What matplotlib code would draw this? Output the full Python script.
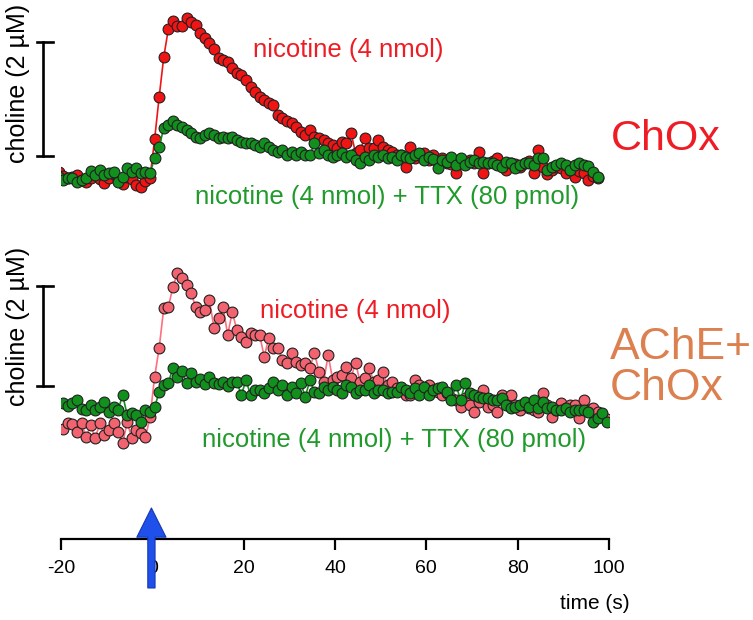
"""
Choline traces evoked by nicotine, with and without TTX, recorded with
ChOx-only and AChE+ChOx coated sensors.
"""

import numpy as np
import matplotlib
matplotlib.use('Agg')
import matplotlib.pyplot as plt

W, H = 753, 620  # figure size in pixels
DPI = 100

# time base (s): first sample time of each panel, 1 s sampling
T0_TOP = -20.5
T0_BOTTOM = -19.5
TIME_TICKS = [-20, 0, 20, 40, 60, 80, 100]
STIM_TIME = 0
SCALE_UM = 2

# ChOx sensor, nicotine (4 nmol), choline in uM relative to scale bar bottom
chox_nic = [
    -0.29, -0.36, -0.40, -0.38, -0.34, -0.43, -0.46, -0.39, -0.34, -0.41,
    -0.48, -0.39, -0.33, -0.43, -0.50, -0.37, -0.41, -0.52, -0.55, -0.45,
    -0.39,
    0.29, 1.04, 1.74, 2.23, 2.38, 2.29, 2.29, 2.43, 2.36, 2.31,
    2.16, 2.08, 1.99, 1.88, 1.72, 1.69, 1.65, 1.55, 1.46, 1.42,
    1.34, 1.21, 1.12, 1.04, 0.98, 0.93, 0.89, 0.72, 0.66, 0.61,
    0.58, 0.51, 0.42, 0.37, 0.45, 0.33, 0.31, 0.28, 0.22, 0.19,
    0.14, 0.24, 0.22, 0.40, 0.05, 0.10, 0.31, 0.14, 0.14, 0.28,
    0.15, 0.10, 0.07, 0.01, 0.01, -0.20, 0.15, -0.04, 0.01, 0.05,
    -0.08, 0.01, -0.11, -0.04, -0.13, -0.15, -0.31, -0.10, -0.15, -0.08,
    -0.13, 0.07, -0.30, -0.13, -0.10, -0.04, -0.16, -0.25, -0.13, -0.15,
    -0.20, -0.13, -0.10, -0.30, 0.10, -0.20, -0.33, -0.25, -0.20, -0.22,
    -0.30, -0.25, -0.38, -0.27, -0.30, -0.43, -0.36, -0.40,
]
# ChOx sensor, nicotine (4 nmol) + TTX (80 pmol)
chox_ttx = [
    -0.38, -0.43, -0.40, -0.39, -0.46, -0.43, -0.39, -0.27, -0.34, -0.25,
    -0.34, -0.31, -0.29, -0.46, -0.38, -0.22, -0.29, -0.22, -0.31, -0.29,
    -0.31,
    -0.04, 0.15, 0.49, 0.54, 0.62, 0.54, 0.51, 0.45, 0.40, 0.33,
    0.31, 0.37, 0.40, 0.37, 0.31, 0.33, 0.31, 0.33, 0.28, 0.24,
    0.22, 0.22, 0.19, 0.15, 0.22, 0.15, 0.10, 0.07, 0.10, 0.01,
    0.07, 0.01, 0.07, 0.01, 0.01, 0.22, 0.05, 0.10, 0.01, -0.02,
    0.01, 0.05, -0.02, 0.01, -0.08, -0.13, -0.02, -0.08, 0.01, -0.02,
    0.01, -0.04, -0.02, -0.08, 0.01, -0.02, -0.04, 0.01, 0.05, -0.08,
    -0.02, -0.06, -0.22, -0.08, -0.11, -0.02, -0.16, -0.04, -0.16, -0.11,
    -0.08, -0.13, -0.11, -0.13, -0.13, -0.16, -0.20, -0.11, -0.13, -0.22,
    -0.16, -0.13, -0.13, -0.16, -0.04, -0.04, -0.25, -0.20, -0.16, -0.13,
    -0.16, -0.25, -0.16, -0.13, -0.16, -0.18, -0.29, -0.38,
]
# AChE+ChOx sensor, nicotine (4 nmol)
ache_nic = [
    -0.86, -0.74, -0.76, -0.92, -0.74, -1.02, -0.78, -1.04, -0.74, -0.98,
    -0.88, -0.74, -0.92, -1.14, -0.72, -1.04, -0.88, -0.94, -1.02, -0.62,
    0.18, 0.76, 1.55, 1.57, 1.97, 2.25, 2.15, 2.01, 1.85, 1.57,
    1.47, 1.51, 1.71, 1.16, 1.35, 1.57, 1.02, 1.47, 1.12, 0.98,
    0.88, 1.06, 1.02, 1.02, 0.58, 0.96, 0.76, 0.76, 0.52, 0.46,
    0.66, 0.48, 0.42, 0.46, 0.36, 0.66, 0.28, 0.08, 0.62, 0.12,
    0.18, 0.22, 0.38, 0.16, 0.46, 0.08, 0.16, 0.36, 0.08, 0.12,
    0.28, 0.02, 0.08, -0.04, -0.08, -0.18, -0.18, 0.12, 0.02, -0.04,
    0.02, -0.08, -0.12, -0.18, -0.14, -0.24, -0.28, -0.42, -0.24, -0.38,
    -0.52, -0.32, -0.08, -0.42, -0.38, -0.52, -0.18, -0.32, -0.18, -0.38,
    -0.48, -0.38, -0.44, -0.48, -0.52, -0.14, -0.38, -0.62, -0.48, -0.34,
    -0.44, -0.38, -0.38, -0.64, -0.28, -0.48, -0.44, -0.52, -0.58, -0.66,
]
# AChE+ChOx sensor, nicotine (4 nmol) + TTX (80 pmol)
ache_ttx = [
    -0.34, -0.40, -0.34, -0.28, -0.46, -0.48, -0.38, -0.48, -0.42, -0.32,
    -0.52, -0.42, -0.48, -0.18, -0.58, -0.54, -0.58, -0.72, -0.48, -0.52,
    -0.42, -0.12, 0.02, 0.06, 0.36, 0.18, 0.30, 0.06, 0.26, 0.08,
    0.14, 0.04, 0.18, 0.06, 0.04, 0.08, 0.00, 0.08, 0.08, -0.18,
    0.12, -0.18, -0.08, -0.08, -0.14, -0.04, 0.08, -0.08, 0.02, -0.18,
    -0.02, -0.14, 0.06, -0.22, 0.12, -0.12, -0.14, -0.02, -0.08, -0.02,
    -0.08, -0.14, 0.02, -0.02, -0.14, -0.08, -0.08, 0.02, -0.14, -0.08,
    -0.08, -0.14, -0.12, -0.12, -0.02, -0.08, -0.14, -0.04, -0.18, -0.02,
    -0.18, -0.08, -0.04, -0.02, -0.12, -0.28, 0.02, -0.28, 0.06, -0.14,
    -0.18, -0.22, -0.24, -0.24, -0.28, -0.28, -0.24, -0.38, -0.44, -0.42,
    -0.38, -0.32, -0.42, -0.28, -0.44, -0.32, -0.44, -0.42, -0.48, -0.48,
    -0.44, -0.52, -0.48, -0.48, -0.48, -0.52, -0.72, -0.64, -0.54, -0.72,
]

RED = '#f01414'
PINK = '#f2636f'
GREEN = '#12901e'
TEXT_RED = '#ee1c24'
TEXT_GREEN = '#1f9a2b'
ORANGE = '#dc8050'
BLUE = '#1f50ea'

# x mapping shared by all axes: t=-20 at 61 px, t=100 at 609 px
X_LEFT, X_RIGHT = 61, 609


def px_axes(fig, top, bottom):
    """Axes spanning the time range horizontally, pixel rows top..bottom."""
    return fig.add_axes([
        X_LEFT / W, 1 - bottom / H,
        (X_RIGHT - X_LEFT) / W, (bottom - top) / H
    ])


def draw_panel(ax, t, nic, ttx, nic_color, line_color):
    ax.plot(t, nic, '-', color=line_color, lw=1.2, zorder=2)
    ax.plot(t, nic, 'o', ms=7.8, mfc=nic_color, mec='#202020', mew=0.8,
            zorder=3)
    ax.plot(t, ttx, '-', color=GREEN, lw=1.2, zorder=4)
    ax.plot(t, ttx, 'o', ms=7.8, mfc=GREEN, mec='#202020', mew=0.8,
            zorder=5)
    # 2 uM scale bar
    ax.plot([-23.85, -23.85], [0, SCALE_UM], color='k', lw=1.9,
            clip_on=False)
    for yb in (0, SCALE_UM):
        ax.plot([-25.2, -21.7], [yb, yb], color='k', lw=1.9, clip_on=False)
    ax.set_xlim(-20, 100)
    ax.axis('off')


def main():
    plt.rcParams['font.family'] = ['Liberation Sans', 'DejaVu Sans']
    fig = plt.figure(figsize=(W / DPI, H / DPI), dpi=DPI)

    t_top = T0_TOP + np.arange(len(chox_nic))
    t_bot = T0_BOTTOM + np.arange(len(ache_nic))

    # top panel: ChOx
    ax1 = px_axes(fig, 0, 210)
    draw_panel(ax1, t_top, chox_nic, chox_ttx, RED, RED)
    ax1.set_ylim(-0.958, 2.746)
    ax1.text(-29.5, 1.28, 'choline (2 µM)', rotation=90, fontsize=18,
             ha='center', va='center')
    ax1.text(42.9, 1.86, 'nicotine (4 nmol)', color=TEXT_RED, fontsize=18.5,
             ha='center', va='center')
    ax1.text(51.4, -0.73, 'nicotine (4 nmol) + TTX (80 pmol)',
             color=TEXT_GREEN, fontsize=18.5, ha='center', va='center')
    ax1.text(100.4, 0.30, 'ChOx', color=TEXT_RED, fontsize=31,
             ha='left', va='center')

    # bottom panel: AChE + ChOx
    ax2 = px_axes(fig, 240, 460)
    draw_panel(ax2, t_bot, ache_nic, ache_ttx, PINK, '#ff6f7d')
    ax2.set_ylim(-1.474, 2.908)
    ax2.text(-29.5, 1.18, 'choline (2 µM)', rotation=90, fontsize=18,
             ha='center', va='center')
    ax2.text(44.4, 1.49, 'nicotine (4 nmol)', color=TEXT_RED, fontsize=18.5,
             ha='center', va='center')
    ax2.text(53.0, -1.08, 'nicotine (4 nmol) + TTX (80 pmol)',
             color=TEXT_GREEN, fontsize=18.5, ha='center', va='center')
    ax2.text(100.2, 0.36, 'AChE+\nChOx', color=ORANGE, fontsize=32,
             ha='left', va='center', linespacing=1.02)

    # time axis with stimulus arrow
    ax3 = px_axes(fig, 480, 539)
    ax3.set_xlim(-20, 100)
    ax3.set_ylim(0, 1)
    for side in ('left', 'right', 'top'):
        ax3.spines[side].set_visible(False)
    ax3.spines['bottom'].set_linewidth(1.6)
    ax3.set_yticks([])
    ax3.set_xticks(TIME_TICKS)
    ax3.set_xticklabels([str(v) for v in TIME_TICKS])
    ax3.tick_params(axis='x', direction='out', length=8, width=1.6,
                    labelsize=14, pad=7)
    ax3.patch.set_visible(False)
    ax3.text(104.6, -1.10, 'time (s)', fontsize=15, ha='right', va='center',
             transform=ax3.get_xaxis_transform())
    ax3.annotate(
        '', xy=(STIM_TIME - 0.2, 0.525), xytext=(STIM_TIME - 0.2, -0.83),
        xycoords=('data', 'axes fraction'),
        textcoords=('data', 'axes fraction'),
        arrowprops=dict(
            arrowstyle='simple,head_length=1.05,head_width=1.05,tail_width=0.26',
            mutation_scale=20, fc=BLUE, ec='#1438b4', lw=0.8,
            shrinkA=0, shrinkB=0,
        ),
        annotation_clip=False, zorder=10,
    )

    fig.savefig('out.png', dpi=DPI)
    plt.close(fig)


if __name__ == '__main__':
    main()
